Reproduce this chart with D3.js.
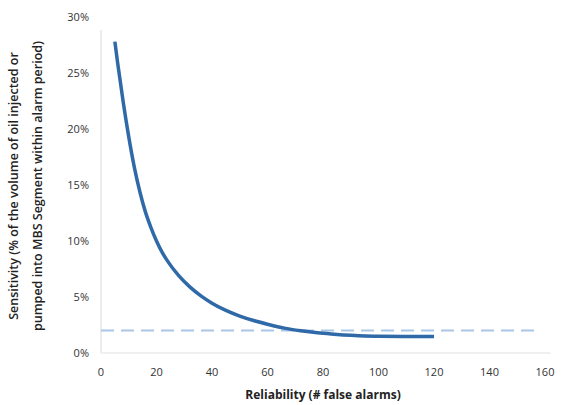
<!DOCTYPE html>
<html><head><meta charset="utf-8">
<script src="https://cdn.jsdelivr.net/npm/d3@7"></script>
<style>body{margin:0;background:#fff}svg{display:block}</style>
</head><body><svg id="c" width="563" height="405"></svg>
<script>
const reliability = [5,6,8,10,12,14,16,18,20,22,24,28,32,36,40,45,50,55,60,66,72,78,84,90,95,100,110,120];
const sensitivity = [27.8,25.9,22.4,19.3,16.6,14.4,12.6,11.2,10.0,9.0,8.2,6.9,5.9,5.1,4.45,3.8,3.3,2.9,2.57,2.22,1.98,1.8,1.68,1.58,1.52,1.5,1.48,1.47];
const thresholdX = [0,158];
const thresholdY = [2.0,2.0];
const xTicks = [0,20,40,60,80,100,120,140,160];
const yTicks = [0,5,10,15,20,25,30];
const xTitle = "Reliability (# false alarms)";
const yTitle = ["Sensitivity (% of the volume of oil injected or","pumped into MBS Segment within alarm period)"];

const svg = d3.select("#c");
const x = d3.scaleLinear().domain([0,160]).range([101,545]);
const y = d3.scaleLinear().domain([0,30]).range([353,17]);
const font = "'Open Sans', sans-serif";

// faint frame lines
svg.append("line").attr("x1",x(0)).attr("x2",x(0)).attr("y1",30).attr("y2",y(0)).attr("stroke","#ececec").attr("stroke-width",2);
svg.append("line").attr("x1",x(0)).attr("x2",x(162)).attr("y1",y(0)).attr("y2",y(0)).attr("stroke","#f0f0f0").attr("stroke-width",2);

// ticks
svg.append("g").selectAll("text").data(yTicks).join("text")
  .attr("x",89).attr("y",d=>y(d)).attr("dy","0.35em").attr("text-anchor","end")
  .attr("font-family",font).attr("font-size",11).attr("fill","#333")
  .text(d=>d+"%");
svg.append("g").selectAll("text").data(xTicks).join("text")
  .attr("x",d=>x(d)).attr("y",372).attr("dy","0.35em").attr("text-anchor","middle")
  .attr("font-family",font).attr("font-size",11).attr("fill","#333")
  .text(d=>d);

// threshold dashed line
svg.append("path").datum(thresholdX.map((d,i)=>[d,thresholdY[i]]))
  .attr("d",d3.line().x(d=>x(d[0])).y(d=>y(d[1])))
  .attr("fill","none").attr("stroke","#a9c6e6").attr("stroke-width",2).attr("stroke-dasharray","13,7");

// main curve
svg.append("path").datum(reliability.map((d,i)=>[d,sensitivity[i]]))
  .attr("d",d3.line().x(d=>x(d[0])).y(d=>y(d[1])).curve(d3.curveMonotoneX))
  .attr("fill","none").attr("stroke","#2f69a8").attr("stroke-width",3.5);

// titles
svg.append("text").attr("x",x(80)).attr("y",395).attr("dy","0.35em").attr("text-anchor","middle")
  .attr("font-family",font).attr("font-weight",700).attr("font-size",12).attr("fill","#222").text(xTitle);
yTitle.forEach((t,i)=>{
  svg.append("text").attr("transform",`translate(${14+i*24},186) rotate(-90)`)
    .attr("dy","0.35em").attr("text-anchor","middle")
    .attr("font-family",font).attr("font-weight",600).attr("font-size",12.5).attr("fill","#222").text(t);
});
</script></body></html>
